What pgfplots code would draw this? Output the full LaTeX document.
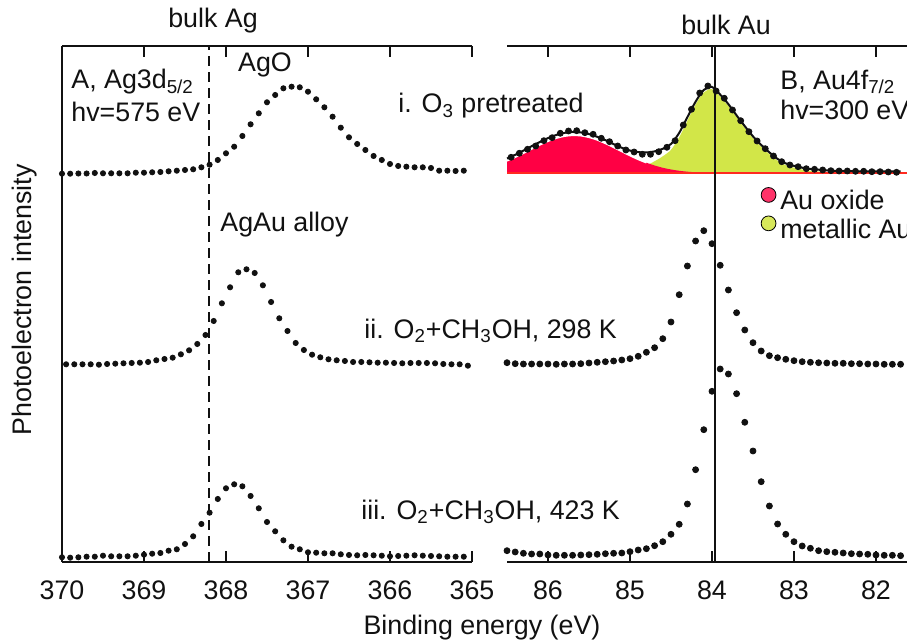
\documentclass[border=0pt]{standalone}
\usepackage{fontspec}
\setmainfont{Liberation Sans}
\usepackage{pgfplots}
\pgfplotsset{compat=1.18}
\usepgfplotslibrary{fillbetween}
\definecolor{inkT}{HTML}{111111}
\definecolor{auox}{HTML}{FF0044}
\definecolor{auoxline}{HTML}{FF2A20}
\definecolor{aumet}{HTML}{D2E648}
\newcommand\lbl{\fontsize{13.4}{16}\selectfont}

\pgfplotsset{
  panel/.style={
    scale only axis, width=205pt, height=258pt,
    x dir=reverse, ymin=0, ymax=516, ytick=\empty,
    axis x line=box,
    axis line style={line width=1pt, inkT},
    tick style={line width=1pt, inkT},
    tick align=inside, major tick length=5.3pt,
    /pgf/number format/assume math mode=true,
    ticklabel style={font=\lbl, text=inkT, yshift=-6pt},
    clip=false,
  },
  dots/.style={only marks, mark=*, mark size=1.3pt, inkT},
}

\begin{document}
\begin{tikzpicture}[font=\lbl]

% ---- panel A: Ag 3d5/2
\begin{axis}[panel, at={(31pt,39.5pt)}, anchor=south west,
  xmin=365, xmax=370, xtick={365,...,370},
  axis y line*=left]
\addplot[inkT, line width=1pt, dash pattern=on 5pt off 3pt] coordinates {(368.21,0) (368.21,516)};
% i. O3 pretreated
\addplot[dots] coordinates {(370.0,388.3) (369.9,388.3) (369.8,388.5) (369.7,388.5) (369.6,389.0) (369.5,388.7) (369.4,388.7) (369.3,388.7) (369.2,388.7) (369.1,389.3) (369.0,389.3) (368.9,389.7) (368.8,390.0) (368.7,390.7) (368.6,391.3) (368.5,392.0) (368.4,392.7) (368.3,394.7) (368.2,397.3) (368.1,402.0) (368.0,408.7) (367.9,415.3) (367.8,426.0) (367.7,437.7) (367.6,448.7) (367.5,459.7) (367.4,467.0) (367.3,473.7) (367.2,475.3) (367.1,474.7) (367.0,470.3) (366.9,462.7) (366.8,454.7) (366.7,445.3) (366.6,434.3) (366.5,424.7) (366.4,418.0) (366.3,412.0) (366.2,406.0) (366.1,402.0) (366.0,398.0) (365.9,396.0) (365.8,395.3) (365.7,394.7) (365.6,394.7) (365.5,394.0) (365.4,391.3) (365.3,391.3) (365.2,391.0) (365.1,391.3)};
% ii. O2+CH3OH, 298 K
\addplot[dots] coordinates {(369.95,197.7) (369.85,197.7) (369.75,197.7) (369.65,197.7) (369.55,197.3) (369.45,198.0) (369.35,198.3) (369.25,198.7) (369.15,199.0) (369.05,199.3) (368.95,200.0) (368.85,201.7) (368.75,203.0) (368.65,204.3) (368.55,207.7) (368.45,211.7) (368.35,218.0) (368.25,227.0) (368.15,241.0) (368.05,258.7) (367.95,274.7) (367.85,289.7) (367.75,292.7) (367.65,289.0) (367.55,276.7) (367.45,260.0) (367.35,243.7) (367.25,231.0) (367.15,219.0) (367.05,212.0) (366.95,207.3) (366.85,204.7) (366.75,202.7) (366.65,201.7) (366.55,201.0) (366.45,200.0) (366.35,200.0) (366.25,199.7) (366.15,199.3) (366.05,199.3) (365.95,199.0) (365.85,198.7) (365.75,199.0) (365.65,199.0) (365.55,199.0) (365.45,198.7) (365.35,198.0) (365.25,197.7) (365.15,197.7) (365.05,196.3)};
% iii. O2+CH3OH, 423 K
\addplot[dots] coordinates {(370.0,4.7) (369.9,4.3) (369.8,4.7) (369.7,5.3) (369.6,5.3) (369.5,6.3) (369.4,5.7) (369.3,5.7) (369.2,5.7) (369.1,6.3) (369.0,7.3) (368.9,8.3) (368.8,9.0) (368.7,11.3) (368.6,12.7) (368.5,18.0) (368.4,25.7) (368.3,38.0) (368.2,49.3) (368.1,63.0) (368.0,73.7) (367.9,77.7) (367.8,75.7) (367.7,66.0) (367.6,53.7) (367.5,40.0) (367.4,30.7) (367.3,21.7) (367.2,15.3) (367.1,12.7) (367.0,9.7) (366.9,9.3) (366.8,8.7) (366.7,8.7) (366.6,7.7) (366.5,7.0) (366.4,6.7) (366.3,7.0) (366.2,6.7) (366.1,6.3) (366.0,5.7) (365.9,6.0) (365.8,6.3) (365.7,6.7) (365.6,6.3) (365.5,6.0) (365.4,5.7) (365.3,5.3) (365.2,5.3) (365.1,5.3)};
\end{axis}

% ---- panel B: Au 4f7/2
\begin{axis}[panel, at={(253.5pt,39.5pt)}, anchor=south west,
  xmin=81.5, xmax=86.5, xtick={82,...,86},
  axis y line=none,
  legend image code/.code={\fill[#1] (3.7pt,0.33em) circle (3.7pt);},
  legend style={at={(0.618,0.671)}, anchor=west, draw=none, fill=none,
    inner sep=0pt, row sep=-1pt, font=\lbl, text=inkT},
  legend cell align=left,
  legend entries={Au oxide, metallic Au}]
\addlegendimage{fill=auox!80!white}
\addlegendimage{fill=aumet!90!white}
% fit components of i.
\addplot[name path=base, draw=none, forget plot] coordinates {(86.5,388.7) (81.5,388.7)};
\addplot[name path=met, draw=none, smooth, forget plot] coordinates {(86.5,388.7) (86.0,388.7) (85.5,388.7) (85.4,388.7) (85.3,388.9) (85.2,389.1) (85.1,389.7) (85.0,391.2) (84.9,393.7) (84.8,396.7) (84.7,400.7) (84.6,405.7) (84.5,412.2) (84.4,424.7) (84.3,441.3) (84.2,457.5) (84.1,469.6) (84.0,472.9) (83.9,465.4) (83.8,455.9) (83.7,444.8) (83.6,434.0) (83.5,423.8) (83.4,415.3) (83.3,407.8) (83.2,401.3) (83.1,396.8) (83.0,394.3) (82.9,392.5) (82.8,391.2) (82.7,390.5) (82.6,389.8) (82.5,389.4) (82.4,389.2) (82.3,389.0) (82.2,388.9) (82.1,388.8) (82.0,388.7) (81.5,388.7)};
\addplot[name path=ox, draw=none, smooth, forget plot] coordinates {(86.5,401.2) (86.4,404.8) (86.3,408.8) (86.2,413.0) (86.1,417.1) (86.0,420.8) (85.9,423.8) (85.8,425.8) (85.7,426.7) (85.6,426.3) (85.5,424.7) (85.4,422.1) (85.3,418.6) (85.2,414.7) (85.1,410.5) (85.0,406.4) (84.9,402.6) (84.8,399.3) (84.7,396.5) (84.6,394.2) (84.5,392.5) (84.4,391.2) (84.3,390.3) (84.2,389.7) (84.1,389.3) (84.0,389.0) (83.9,388.9) (83.8,388.8) (83.7,388.7) (83.0,388.7) (81.5,388.7)};
\addplot[fill=aumet, draw=none, forget plot] fill between[of=met and base];
\addplot[fill=auox, draw=none, forget plot] fill between[of=ox and base];
\addplot[white, line width=0.8pt, smooth, forget plot] coordinates {(86.5,401.2) (86.4,404.8) (86.3,408.8) (86.2,413.0) (86.1,417.1) (86.0,420.8) (85.9,423.8) (85.8,425.8) (85.7,426.7) (85.6,426.3) (85.5,424.7) (85.4,422.1) (85.3,418.6) (85.2,414.7) (85.1,410.5) (85.0,406.4) (84.9,402.6) (84.8,399.3)};
\addplot[auoxline, line width=1.2pt, forget plot] coordinates {(86.5,388.7) (81.5,388.7)};
% envelope of the fit
\addplot[inkT, line width=1pt, smooth, forget plot] coordinates {(86.5,403.5) (86.4,407.2) (86.3,411.4) (86.2,415.8) (86.1,420.0) (86.0,423.9) (85.9,427.0) (85.8,429.1) (85.7,430.0) (85.6,429.6) (85.5,427.9) (85.4,425.2) (85.3,421.8) (85.2,417.9) (85.1,414.2) (85.0,411.4) (84.9,409.9) (84.8,409.5) (84.7,410.6) (84.6,413.2) (84.5,418.0) (84.4,429.1) (84.3,444.8) (84.2,460.3) (84.1,472.0) (84.0,475.0) (83.9,467.4) (83.8,457.8) (83.7,446.6) (83.6,435.8) (83.5,425.6) (83.4,417.1) (83.3,409.6) (83.2,403.1) (83.1,398.6) (83.0,396.1) (82.9,394.3) (82.8,393.0) (82.7,392.3) (82.6,391.6) (82.5,391.2) (82.4,391.0) (82.3,390.8) (82.2,390.7) (82.1,390.6) (82.0,390.5) (81.9,390.5) (81.8,390.5) (81.7,390.5)};
\addplot[inkT, line width=1pt, forget plot] coordinates {(83.96,0) (83.96,516)};
% i. O3 pretreated
\addplot[dots, mark size=1.5pt, forget plot] coordinates {(86.45,404.7) (86.35,408.7) (86.25,412.7) (86.15,416.0) (86.05,421.3) (85.95,424.3) (85.85,428.7) (85.75,431.0) (85.65,431.3) (85.55,429.3) (85.45,427.7) (85.35,423.7) (85.25,420.3) (85.15,416.0) (85.05,412.0) (84.95,410.0) (84.85,407.7) (84.75,407.7) (84.65,410.3) (84.55,414.7) (84.45,421.3) (84.35,437.0) (84.25,452.7) (84.15,469.0) (84.05,476.0) (83.95,471.0) (83.85,463.7) (83.75,452.0) (83.65,441.3) (83.55,430.3) (83.45,421.0) (83.35,413.3) (83.25,406.0) (83.15,400.3) (83.05,397.0) (82.95,395.3) (82.85,393.3) (82.75,392.7) (82.65,392.0) (82.55,391.3) (82.45,391.0) (82.35,391.0) (82.25,390.7) (82.15,390.7) (82.05,390.3) (81.95,390.3) (81.85,390.0) (81.75,389.7)};
% ii. O2+CH3OH, 298 K
\addplot[dots, mark size=1.5pt, forget plot] coordinates {(86.5,199.3) (86.4,198.3) (86.3,198.0) (86.2,198.0) (86.1,198.0) (86.0,198.0) (85.9,197.7) (85.8,198.0) (85.7,198.0) (85.6,198.3) (85.5,199.0) (85.4,199.7) (85.3,200.3) (85.2,201.0) (85.1,202.0) (85.0,203.3) (84.9,205.7) (84.8,209.7) (84.7,214.3) (84.6,223.3) (84.5,240.0) (84.4,267.3) (84.3,296.0) (84.2,321.0) (84.1,331.3) (84.0,318.3) (83.9,296.7) (83.8,272.0) (83.7,249.3) (83.6,232.0) (83.5,219.3) (83.4,211.0) (83.3,206.3) (83.2,204.3) (83.1,202.7) (83.0,201.3) (82.9,200.3) (82.8,199.7) (82.7,199.3) (82.6,199.0) (82.5,198.7) (82.4,198.7) (82.3,198.3) (82.2,198.3) (82.1,198.0) (82.0,198.0) (81.9,197.7) (81.8,197.7) (81.7,197.7)};
% iii. O2+CH3OH, 423 K
\addplot[dots, mark size=1.5pt, forget plot] coordinates {(86.5,11.3) (86.4,10.0) (86.3,8.7) (86.2,8.0) (86.1,8.0) (86.0,7.0) (85.9,6.7) (85.8,6.7) (85.7,6.7) (85.6,7.0) (85.5,7.3) (85.4,7.7) (85.3,8.3) (85.2,8.7) (85.1,9.0) (85.0,10.3) (84.9,12.0) (84.8,13.3) (84.7,16.3) (84.6,20.3) (84.5,27.7) (84.4,37.7) (84.3,58.0) (84.2,92.3) (84.1,132.3) (84.0,170.7) (83.9,193.0) (83.8,188.0) (83.7,168.3) (83.6,139.7) (83.5,111.0) (83.4,80.3) (83.3,56.0) (83.2,38.0) (83.1,27.7) (83.0,20.3) (82.9,16.0) (82.8,13.7) (82.7,11.3) (82.6,10.3) (82.5,9.7) (82.4,9.0) (82.3,8.3) (82.2,8.0) (82.1,7.7) (82.0,7.0) (81.9,6.7) (81.8,6.7) (81.7,6.3)};
\end{axis}

% ---- text, placed in pixel units of the figure (y downwards)
\begin{scope}[x=0.5pt, y=-0.5pt, yshift=320.5pt, every node/.style={inner sep=0pt, text=inkT}]
\node at (213,21) {bulk Ag};
\node at (726,25) {bulk Au};
\node[anchor=west] at (71,82) {A, Ag3d\textsubscript{5/2}};
\node[anchor=west] at (71,112) {hv=575 eV};
\node at (265,65) {AgO};
\node[anchor=west] at (398,106) {i. O\textsubscript{3} pretreated};
\node[anchor=west] at (780,82) {B, Au4f\textsubscript{7/2}};
\node[anchor=west] at (780,110) {hv=300 eV};
\node[anchor=west] at (220,225) {AgAu alloy};
\node[anchor=west] at (364,331) {ii. O\textsubscript{2}+CH\textsubscript{3}OH, 298 K};
\node[anchor=west] at (361,512) {iii. O\textsubscript{2}+CH\textsubscript{3}OH, 423 K};
\node[rotate=90] at (25,300) {Photoelectron intensity};
\node at (482,628) {Binding energy (eV)};
\end{scope}

\pgfresetboundingbox
\useasboundingbox (0,0) rectangle (453.5pt,320.5pt);
\end{tikzpicture}
\end{document}
